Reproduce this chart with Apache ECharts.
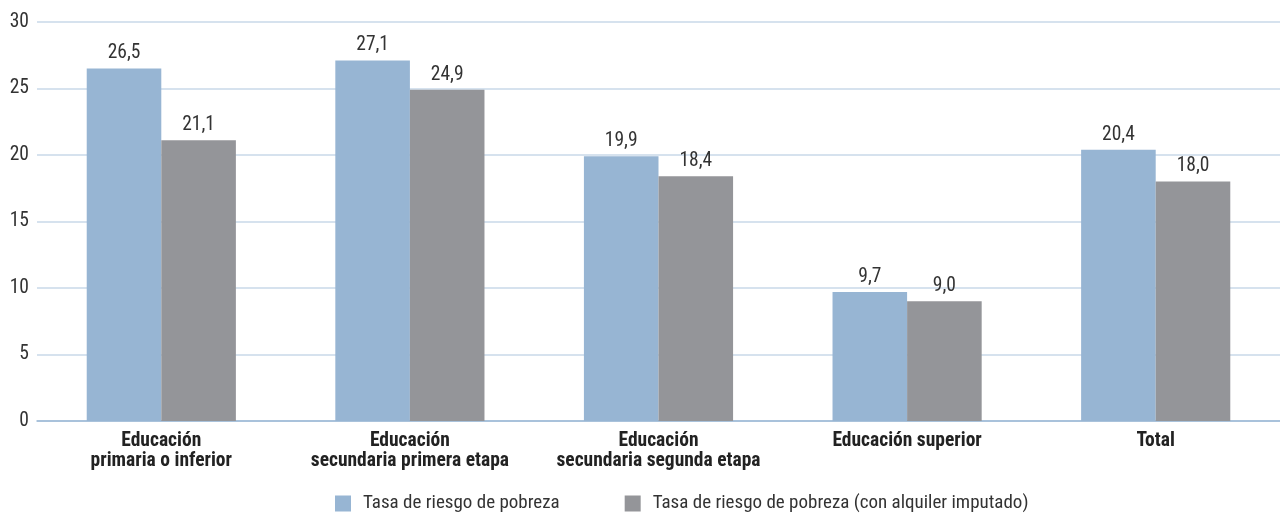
<!DOCTYPE html>
<html>
<head>
<meta charset="utf-8">
<script src="https://cdn.jsdelivr.net/npm/echarts@6/dist/echarts.min.js"></script>
<style>
  html, body { margin: 0; padding: 0; background: #fff; }
  #chart { width: 1280px; height: 518px; }
</style>
</head>
<body>
<div id="chart"></div>
<script>
// categorias y valores
let categorias = [
  'Educación\nprimaria o inferior',
  'Educación\nsecundaria primera etapa',
  'Educación\nsecundaria segunda etapa',
  'Educación superior',
  'Total'
];
let tasaPobreza = [26.5, 27.1, 19.9, 9.7, 20.4];
let tasaAlquiler = [21.1, 24.9, 18.4, 9.0, 18.0];
let nombres = ['Tasa de riesgo de pobreza', 'Tasa de riesgo de pobreza (con alquiler imputado)'];

let fuente = '"Liberation Sans Narrow", "Roboto Condensed", "Liberation Sans", Arial, sans-serif';
let fmt = function (p) { return p.value.toFixed(1).replace('.', ','); };

let myChart = echarts.init(document.getElementById('chart'));

let option = {
  animation: false,
  textStyle: { fontFamily: fuente },
  legend: {
    bottom: 0,
    left: 330,
    itemWidth: 16,
    itemHeight: 16,
    itemGap: 65,
    icon: 'rect',
    textStyle: { fontSize: 19, color: '#333', fontFamily: fuente, padding: [0, 0, 0, 7] },
    data: nombres
  },
  grid: { left: 37, right: 0, top: 22, bottom: 97 },
  xAxis: {
    type: 'category',
    data: categorias,
    axisLine: { lineStyle: { color: '#9ab8d5', width: 1.5 } },
    axisTick: { show: false },
    axisLabel: {
      interval: 0,
      hideOverlap: false,
      color: '#222',
      fontWeight: 'bold',
      fontSize: 19.5,
      lineHeight: 20,
      margin: 10,
      fontFamily: fuente
    }
  },
  yAxis: {
    type: 'value',
    min: 0,
    max: 30,
    interval: 5,
    axisLine: { show: false },
    axisTick: { show: false },
    splitLine: { lineStyle: { color: '#c9d8e8', width: 1.5 } },
    axisLabel: { color: '#333', fontSize: 19.5, margin: 8, fontFamily: fuente }
  },
  series: [
    {
      name: nombres[0],
      type: 'bar',
      data: tasaPobreza,
      barWidth: '30%',
      barGap: '0%',
      itemStyle: { color: '#97b5d3' },
      label: { show: true, position: 'top', color: '#333', fontSize: 19.5, distance: 5, formatter: fmt, fontFamily: fuente }
    },
    {
      name: nombres[1],
      type: 'bar',
      data: tasaAlquiler,
      barWidth: '30%',
      barGap: '0%',
      itemStyle: { color: '#949599' },
      label: { show: true, position: 'top', color: '#333', fontSize: 19.5, distance: 5, formatter: fmt, fontFamily: fuente }
    }
  ]
};

myChart.setOption(option);
</script>
</body>
</html>
